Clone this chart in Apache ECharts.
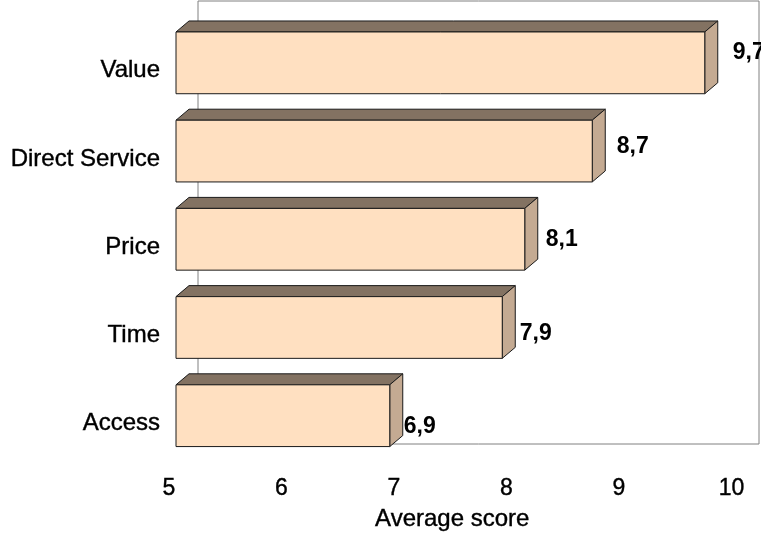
<!DOCTYPE html>
<html>
<head>
<meta charset="utf-8">
<script src="https://cdn.jsdelivr.net/npm/echarts@6/dist/echarts.min.js"></script>
<style>
  html, body { margin: 0; padding: 0; background: #fff; }
  #chart { width: 761px; height: 537px; }
</style>
</head>
<body>
<div id="chart"></div>
<script>
// categories top to bottom
const categories = ['Value', 'Direct Service', 'Price', 'Time', 'Access']
// average scores
const scores = [9.7, 8.7, 8.1, 7.9, 6.9]
// x axis range
const xMin = 5
const xMax = 10

const chart = echarts.init(document.getElementById('chart'))

// 3d box: front face, top face and right side face
function renderBar(params, api) {
  const v = api.value(0)
  const c = api.value(1)
  const start = api.coord([xMin, c])
  const end = api.coord([v, c])
  const h = api.size([0, 1])[1] * 0.7
  const dx = 13
  const dy = 11
  const x0 = start[0]
  const x1 = end[0]
  const yT = start[1] - h / 2
  const yB = start[1] + h / 2
  const i = params.dataIndex
  const stroke = { stroke: '#1a1a1a', lineWidth: 1 }
  return {
    type: 'group',
    children: [
      {
        type: 'polygon',
        shape: { points: [[x0, yT], [x0 + dx, yT - dy], [x1 + dx, yT - dy], [x1, yT]] },
        style: Object.assign({ fill: '#837262' }, stroke)
      },
      {
        type: 'polygon',
        shape: { points: [[x1, yT], [x1 + dx, yT - dy], [x1 + dx, yB - dy], [x1, yB]] },
        style: Object.assign({ fill: '#c4aa92' }, stroke)
      },
      {
        type: 'rect',
        shape: { x: x0, y: yT, width: x1 - x0, height: yB - yT },
        style: Object.assign({ fill: '#ffe0c1' }, stroke)
      },
      {
        type: 'text',
        style: {
          text: v.toFixed(1).replace('.', ','),
          x: x1 + dx + 15 - i * 3.5,
          y: start[1] - 10 + i * 5.25,
          align: 'left',
          verticalAlign: 'middle',
          fill: '#000',
          fontSize: 23,
          fontWeight: 'bold',
          fontFamily: '"Liberation Sans", Arial, sans-serif'
        }
      }
    ]
  }
}

// slightly heavier text like the original
const heavy = { textBorderColor: '#000', textBorderWidth: 0.4 }

const option = {
  animation: false,
  textStyle: { fontFamily: '"Liberation Sans", Arial, sans-serif' },
  grid: [
    {
      left: 176,
      right: 22.5,
      top: 18.75,
      bottom: 75.75
    },
    {
      // back wall
      left: 198,
      top: 1,
      width: 561,
      height: 443,
      show: true,
      borderColor: '#808080',
      borderWidth: 1
    }
  ],
  xAxis: [
    {
      type: 'value',
      gridIndex: 0,
      min: xMin,
      max: xMax,
      interval: 1,
      axisLine: { show: false },
      axisTick: { show: false },
      splitLine: { show: false },
      axisLabel: Object.assign({
        color: '#000',
        fontSize: 23,
        margin: 17,
        padding: [0, 14, 0, 0]
      }, heavy),
      name: 'Average score',
      nameLocation: 'middle',
      nameGap: 48,
      nameTextStyle: Object.assign({ color: '#000', fontSize: 24, padding: [0, 10, 0, 0] }, heavy)
    },
    { type: 'value', gridIndex: 1, min: xMin, max: xMax, show: false }
  ],
  yAxis: [
    {
      type: 'category',
      gridIndex: 0,
      data: categories,
      inverse: true,
      axisLine: { show: false },
      axisTick: { show: false },
      axisLabel: Object.assign({
        color: '#000',
        fontSize: 24,
        margin: 16,
        verticalAlign: 'top',
        lineHeight: 16
      }, heavy)
    },
    { type: 'category', gridIndex: 1, data: categories, show: false }
  ],
  series: [
    {
      type: 'custom',
      xAxisIndex: 0,
      yAxisIndex: 0,
      renderItem: renderBar,
      encode: { x: 0, y: 1 },
      data: scores.map((s, i) => [s, i]),
      clip: false
    }
  ]
}

chart.setOption(option)
</script>
</body>
</html>
